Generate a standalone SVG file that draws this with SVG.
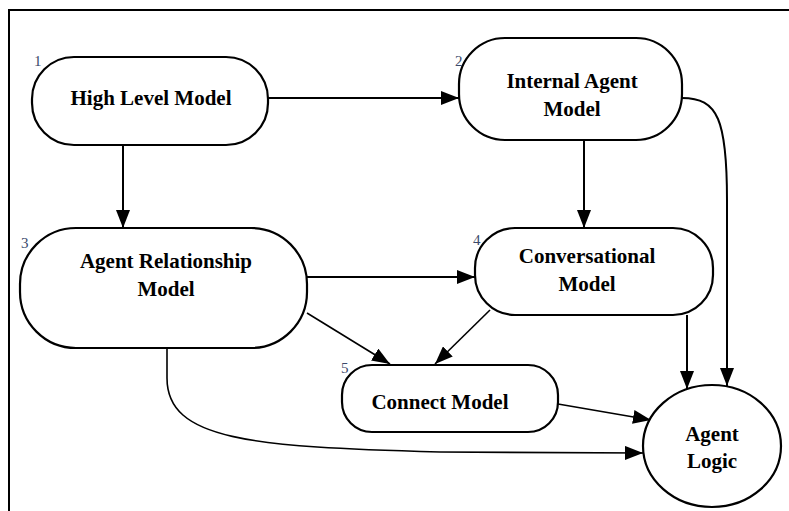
<svg xmlns="http://www.w3.org/2000/svg" width="789" height="511" viewBox="0 0 789 511">
  <style>
    .node { fill: #ffffff; stroke: #000000; stroke-width: 2.2; }
    .label { font-family: "Liberation Serif", "Times New Roman", serif; font-weight: bold; font-size: 21px; fill: #000000; text-anchor: middle; }
    .num { font-family: "Liberation Serif", "Times New Roman", serif; font-size: 15px; fill: #3b4a6b; }
    .edge { fill: none; stroke: #000000; stroke-width: 2; }
    .thin { fill: none; stroke: #000000; stroke-width: 1.6; }
  </style>
  <defs>
    <marker id="arrow" viewBox="0 0 18 14" refX="18" refY="7" markerWidth="18" markerHeight="14" markerUnits="userSpaceOnUse" orient="auto">
      <path d="M0,0 L18,7 L0,14 Z" fill="#000000"/>
    </marker>
  </defs>

  <rect x="0" y="0" width="789" height="511" fill="#ffffff"/>

  <!-- frame -->
  <g id="frame">
    <path d="M9,511 L9,10 L789,10" fill="none" stroke="#000000" stroke-width="2"/>
  </g>

  <!-- connectors -->
  <g id="connectors">
    <path class="edge" d="M268,98 L459,98" marker-end="url(#arrow)"/>
    <path class="edge" d="M123,145 L123,228" marker-end="url(#arrow)"/>
    <path class="edge" d="M584,140 L584,228" marker-end="url(#arrow)"/>
    <path class="edge" d="M682,98 C718,98 727,120 727,200 L727,386" marker-end="url(#arrow)"/>
    <path class="edge" d="M307,277 L475,277" marker-end="url(#arrow)"/>
    <path class="thin" d="M307,313 L390,364" marker-end="url(#arrow)"/>
    <path class="thin" d="M490,310 L435,364" marker-end="url(#arrow)"/>
    <path class="edge" d="M687,315 L687,389" marker-end="url(#arrow)"/>
    <path class="thin" d="M558,404 L651,420" marker-end="url(#arrow)"/>
    <path class="thin" d="M167,348 L167,378 C167,440 250,447 440,452 L643,453" marker-end="url(#arrow)"/>
  </g>

  <g id="node-1">
    <rect class="node" x="32" y="57" width="236" height="88" rx="42" ry="42"/>
    <text class="num" x="34" y="66">1</text>
    <text class="label" x="151" y="105">High Level Model</text>
  </g>

  <g id="node-2">
    <rect class="node" x="459" y="38" width="223" height="102" rx="46" ry="46"/>
    <text class="num" x="455" y="66">2</text>
    <text class="label" x="572" y="88">Internal Agent</text>
    <text class="label" x="572" y="116">Model</text>
  </g>

  <g id="node-3">
    <rect class="node" x="20" y="228" width="287" height="120" rx="56" ry="56"/>
    <text class="num" x="21" y="248">3</text>
    <text class="label" x="166" y="268">Agent Relationship</text>
    <text class="label" x="166" y="296">Model</text>
  </g>

  <g id="node-4">
    <rect class="node" x="475" y="228" width="238" height="87" rx="40" ry="40"/>
    <text class="num" x="473" y="245">4</text>
    <text class="label" x="587" y="263">Conversational</text>
    <text class="label" x="587" y="291">Model</text>
  </g>

  <g id="node-5">
    <rect class="node" x="342" y="365" width="216" height="67" rx="30" ry="30"/>
    <text class="num" x="341" y="373">5</text>
    <text class="label" x="440" y="409">Connect Model</text>
  </g>

  <g id="node-logic">
    <ellipse class="node" cx="712" cy="446" rx="69" ry="61"/>
    <text class="label" x="712" y="441">Agent</text>
    <text class="label" x="712" y="468">Logic</text>
  </g>
</svg>
